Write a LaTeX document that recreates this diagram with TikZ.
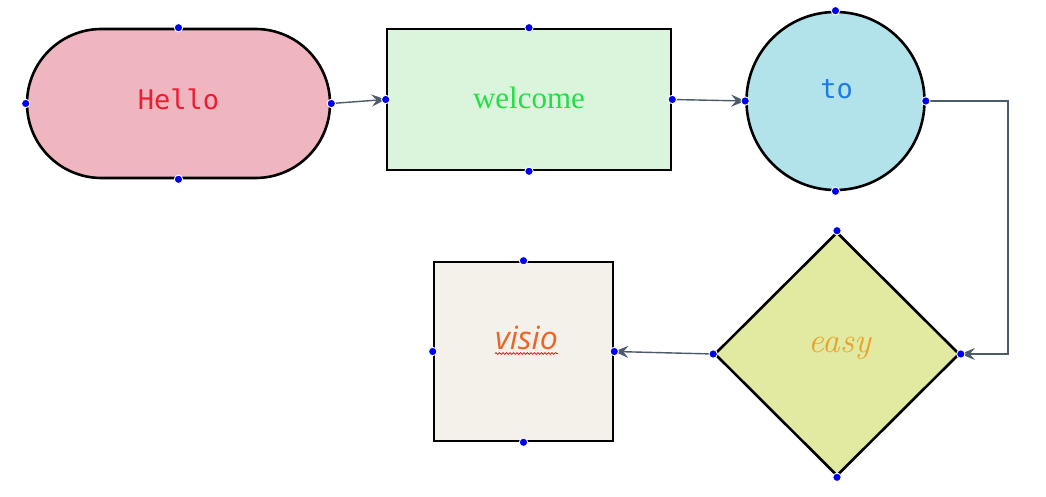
\documentclass[tikz,border=0pt]{standalone}
\usepackage{fontspec}
\usepackage{tikz}
\usetikzlibrary{shapes.geometric}
\usetikzlibrary{shapes.misc}
\usetikzlibrary{arrows.meta}
\usetikzlibrary{decorations.pathmorphing}
\newfontfamily\hellomono{DejaVu Sans Mono}
\newfontfamily\timesfont{Liberation Serif}
\newfontfamily\opensans{Open Sans}
\definecolor{hellofill}{HTML}{F0B6C0}
\definecolor{hellotext}{HTML}{EE1C30}
\definecolor{welcomefill}{HTML}{DAF5DC}
\definecolor{welcometext}{HTML}{22DF44}
\definecolor{tofill}{HTML}{B3E3EA}
\definecolor{totext}{HTML}{1E7BE6}
\definecolor{easyfill}{HTML}{E2EAA2}
\definecolor{easytext}{HTML}{E8A22A}
\definecolor{visiofill}{HTML}{F4F1EA}
\definecolor{visiotext}{HTML}{EC6428}
\definecolor{connline}{HTML}{4B5B6B}
\definecolor{dotblue}{HTML}{0000F0}
\tikzset{shapebox/.style={draw=black,line width=2.6pt,inner sep=0pt},
  conn/.style={draw=connline,line width=1.4pt,-{Stealth[length=14pt,width=12pt,inset=5pt]}},
  txt/.style={inner sep=0pt,anchor=base},
  anchordot/.style={draw=white,fill=dotblue,line width=0.9pt}}

\begin{document}
\begin{tikzpicture}[x=1pt,y=1pt]
\useasboundingbox (0,0) rectangle (1046,496);
% shapes
\node (hello) at (178.5,392.5) [shapebox, rounded rectangle, fill=hellofill, minimum width=303pt, minimum height=149pt] {};
\node (welcome) at (529,396.5) [shapebox, rectangle, fill=welcomefill, minimum width=284pt, minimum height=141pt] {};
\node (to) at (835.5,395) [shapebox, circle, fill=tofill, minimum size=178pt] {};
\node (easy) at (837,142) [shapebox, diamond, fill=easyfill, minimum width=245pt, minimum height=244pt] {};
\node (visio) at (523.5,144.5) [shapebox, rectangle, fill=visiofill, minimum size=179pt] {};
% texts
\node (helloText) at (178.5,386.7) [txt, text=hellotext] {\hellomono\fontsize{27}{30}\selectfont Hello};
\node (welcomeText) at (529,387.7) [txt, text=welcometext] {\timesfont\fontsize{31}{34}\selectfont welcome};
\node (toText) at (836.5,397.7) [txt, text=totext] {\hellomono\fontsize{27}{30}\selectfont to};
\node (easyText) at (840,143.7) [txt, text=easytext] {\itshape\fontsize{35}{38}\selectfont easy};
\node (visioText) at (526.5,147) [txt, text=visiotext] {\opensans\itshape\fontsize{32}{36}\selectfont visio};
\draw [red, line width=0.7pt, decorate, decoration={snake, amplitude=0.9pt, segment length=3.5pt}]
  ([yshift=-4.5pt]visioText.base west) -- ([yshift=-4.5pt]visioText.base east);
% connectors
\draw [conn] (hello.east) -- (welcome.west);
\draw [conn] (welcome.east) -- (to.west);
\draw [conn] (to.east) -- ++(82,0) |- (easy.east);
\draw [conn] (easy.west) -- (visio.east);
% anchor dots
\foreach \n in {hello, welcome, to, easy, visio} {
	\foreach \a in {north, south, east, west} {
	\filldraw [anchordot] (\n.\a) circle (4.2pt);
	}
}
\end{tikzpicture}
\end{document}
